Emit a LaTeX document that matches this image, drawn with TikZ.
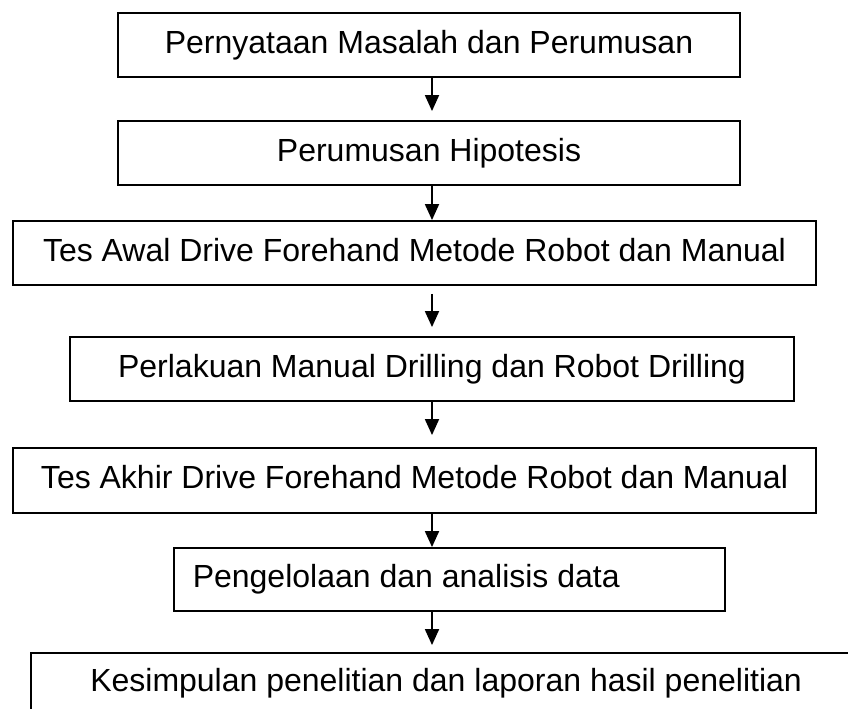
\documentclass[tikz,border=0pt]{standalone}
\usepackage{fontspec}
\setmainfont{Liberation Sans}
\usetikzlibrary{arrows.meta}
\begin{document}
\begin{tikzpicture}[x=0.75pt,y=-0.75pt,
  box/.style={draw=black, line width=1.4pt, rectangle, inner sep=0pt, text height=17.5pt, text depth=5pt},
  lbl/.style={inner sep=0pt, text height=17.5pt, text depth=5pt},
  flow/.style={line width=1.4pt, -{Triangle[width=10.5pt,length=12pt]}},
  every node/.append style={font=\fontsize{24}{28}\selectfont}]
\useasboundingbox (0,0) rectangle (848,709);
\clip (0,0) rectangle (848,709);
\coordinate (ax) at (432,0);
\node[box, minimum width=466.5pt, minimum height=48pt] (b1) at (429,45) {Pernyataan Masalah dan Perumusan};
\node[box, minimum width=466.5pt, minimum height=48pt] (b2) at (429,153) {Perumusan Hipotesis};
\node[box, minimum width=602.25pt, minimum height=48pt] (b3) at (414.5,253) {Tes Awal Drive Forehand Metode Robot dan Manual};
\node[box, minimum width=543pt, minimum height=48pt] (b4) at (432,369) {Perlakuan Manual Drilling dan Robot Drilling};
\node[box, minimum width=602.25pt, minimum height=48.75pt] (b5) at (414.5,480.5) {Tes Akhir Drive Forehand Metode Robot dan Manual};
\node[box, minimum width=413.25pt, minimum height=47.25pt] (b6) at (449.5,579.5) {};
\node[lbl, anchor=west] (t6) at (192.5,579.5) {Pengelolaan dan analisis data};
\node[box, minimum width=629.25pt, minimum height=65.25pt] (b7) at (450.5,696.5) {};
\node[lbl, anchor=west] (t7) at (90,683.4) {Kesimpulan penelitian dan laporan hasil penelitian};
\draw[flow, shorten >=6.75pt] (b1.south -| ax) -- (b2.north -| ax);
\draw[flow] (b2.south -| ax) -- (b3.north -| ax);
\draw[flow, shorten <=6pt, shorten >=6.75pt] (b3.south -| ax) -- (b4.north -| ax);
\draw[flow, shorten >=9pt] (b4.south -| ax) -- (b5.north -| ax);
\draw[flow] (b5.south -| ax) -- (b6.north -| ax);
\draw[flow, shorten >=5.25pt] (b6.south -| ax) -- (b7.north -| ax);
\end{tikzpicture}
\end{document}
